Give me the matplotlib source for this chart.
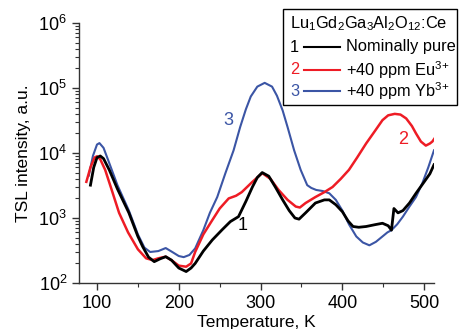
import matplotlib
matplotlib.use("Agg")
import matplotlib.pyplot as plt
from matplotlib.patches import Rectangle
from matplotlib.lines import Line2D
from matplotlib.ticker import MultipleLocator, LogLocator, NullFormatter

plt.rcParams['font.family'] = ['Liberation Sans', 'DejaVu Sans']
plt.rcParams['mathtext.fontset'] = 'custom'
plt.rcParams['mathtext.rm'] = 'Liberation Sans'
plt.rcParams['mathtext.it'] = 'Liberation Sans:italic'

# ---- data ----
black_T = [92, 96, 100, 104, 108, 115, 125, 139, 150, 156, 163, 170, 177, 184, 191, 200, 209, 215, 220,
           230, 241, 253, 263, 273, 282, 290, 296, 302, 310, 318, 327, 335, 342, 347, 355, 367, 378, 384,
           392, 400, 407, 413, 420, 429, 440, 449, 456, 460, 463, 468, 474, 482, 490, 500, 507, 512]
black_I = [3.2e3, 6e3, 8.5e3, 9.0e3, 8.2e3, 5.5e3, 2.8e3, 1.2e3, 520, 360, 250, 213, 235, 254, 225, 170, 150, 170, 200,
           310, 460, 660, 880, 1.05e3, 1.8e3, 3.0e3, 4.2e3, 5.0e3, 4.4e3, 3.0e3, 1.9e3, 1.3e3, 1.0e3, 960, 1.2e3, 1.7e3, 1.9e3, 1.9e3,
           1.6e3, 1.25e3, 900, 740, 720, 740, 790, 830, 760, 650, 1.4e3, 1.2e3, 1.3e3, 1.7e3, 2.4e3, 3.6e3, 4.8e3, 6.6e3]

red_T = [87, 92, 97, 100, 104, 110, 118, 127, 138, 150, 160, 168, 175, 184, 192, 200, 209, 215, 220, 230,
         241, 250, 261, 270, 277, 290, 302, 312, 322, 333, 343, 348, 355, 367, 378, 388, 398, 408, 418, 429,
         440, 449, 456, 464, 471, 478, 485, 490, 496, 502, 507, 510, 513]
red_I = [3.6e3, 6e3, 8.5e3, 8.9e3, 8e3, 5.5e3, 2.7e3, 1.2e3, 600, 330, 240, 225, 240, 254, 220, 185, 178, 200, 300, 560,
         930, 1.4e3, 2.0e3, 2.2e3, 2.5e3, 3.6e3, 4.9e3, 4.0e3, 2.7e3, 1.9e3, 1.5e3, 1.45e3, 1.7e3, 2.1e3, 2.5e3, 3.0e3, 4.0e3, 5.5e3, 8.5e3, 1.4e4,
         2.2e4, 3.2e4, 3.8e4, 4.0e4, 3.9e4, 3.4e4, 2.6e4, 2.0e4, 1.5e4, 1.3e4, 1.4e4, 1.5e4, 1.7e4]

blue_T = [90, 95, 100, 103, 108, 115, 125, 139, 150, 158, 165, 175, 184, 192, 200, 206, 213, 220, 230, 238,
          247, 257, 267, 275, 282, 288, 296, 305, 314, 320, 327, 333, 341, 349, 357, 362, 368, 376, 384,
          392, 400, 408, 417, 425, 433, 441, 449, 455, 460, 467, 474, 482, 490, 498, 505, 512]
blue_I = [4.5e3, 9e3, 1.35e4, 1.42e4, 1.2e4, 7e3, 3.2e3, 1.3e3, 560, 350, 300, 310, 345, 300, 260, 250, 270, 340, 650, 1.2e3,
          2.1e3, 4.9e3, 1.1e4, 2.5e4, 4.7e4, 7.4e4, 1.05e5, 1.2e5, 1.05e5, 7.6e4, 4.5e4, 2.5e4, 1.1e4, 5.5e3, 3.2e3, 2.9e3, 2.7e3, 2.6e3, 2.4e3,
          1.9e3, 1.3e3, 800, 520, 420, 380, 430, 520, 600, 650, 800, 1.05e3, 1.5e3, 2.1e3, 3.5e3, 6e3, 1.1e4]

series_nums = ['1', '2', '3']
series_labels = ['Nominally pure', '+40 ppm Eu$^{3{+}}$', '+40 ppm Yb$^{3{+}}$']
legend_title = 'Lu$_1$Gd$_2$Ga$_3$Al$_2$O$_{12}$:Ce'
x_ticks = [100, 200, 300, 400, 500]

c_black = '#000000'
c_red = '#ee1c25'
c_blue = '#3b55a5'
colors = [c_black, c_red, c_blue]

W, H = 459, 329
fig = plt.figure(figsize=(W / 100, H / 100), dpi=100)
ax = fig.add_axes([79 / W, 1 - 283 / H, (434 - 79) / W, (283 - 23) / H])

ax.plot(black_T, black_I, color=c_black, lw=2.0, zorder=3)
ax.plot(red_T, red_I, color=c_red, lw=1.8, zorder=2)
ax.plot(blue_T, blue_I, color=c_blue, lw=1.5, zorder=1)

ax.set_yscale('log')
ax.set_ylim(1e2, 1e6)
ax.set_xlim(78, 512)
ax.set_xticks(x_ticks)
ax.xaxis.set_minor_locator(MultipleLocator(50))
ax.yaxis.set_minor_locator(LogLocator(base=10, subs=range(2, 10)))
ax.yaxis.set_minor_formatter(NullFormatter())

for s in ['top', 'right']:
    ax.spines[s].set_visible(False)
for s in ['left', 'bottom']:
    ax.spines[s].set_color('#333333')
    ax.spines[s].set_linewidth(1.0)

ax.tick_params(which='major', direction='out', length=5, width=1, labelsize=13, color='#333333')
ax.tick_params(which='minor', direction='out', length=3, width=0.8, color='#333333')

ax.set_xlabel('Temperature, K', fontsize=12.5, labelpad=2)
ax.set_ylabel('TSL intensity, a.u.', fontsize=12.5, labelpad=5)

# curve labels
ax.text(260.7, 3.2e4, '3', color=c_blue, fontsize=13, ha='center', va='center')
ax.text(278, 780, '1', color=c_black, fontsize=13, ha='center', va='center')
ax.text(474.8, 1.6e4, '2', color=c_red, fontsize=13, ha='center', va='center')

# legend box (figure pixel coords)
def fx(x):
    return x / W

def fy(y):
    return 1 - y / H

fig.patches.append(Rectangle((fx(283), fy(105)), fx(457) - fx(283), fy(9) - fy(105),
                             transform=fig.transFigure, facecolor='white', edgecolor='black',
                             lw=1.0, zorder=10))
fig.text(fx(290), fy(24), legend_title, fontsize=11.8, ha='left', va='center', zorder=11)
ys = [47, 70, 91]
for num, lab, col, y in zip(series_nums, series_labels, colors, ys):
    fig.text(fx(290), fy(y), num, color=col, fontsize=11.8, ha='left', va='center', zorder=11)
    fig.lines.append(Line2D([fx(304), fx(340)], [fy(y), fy(y)], transform=fig.transFigure,
                            color=col, lw=1.5, zorder=11))
    fig.text(fx(346), fy(y), lab, color='black', fontsize=11.8, ha='left', va='center', zorder=11)

fig.savefig('out.png', dpi=100)
